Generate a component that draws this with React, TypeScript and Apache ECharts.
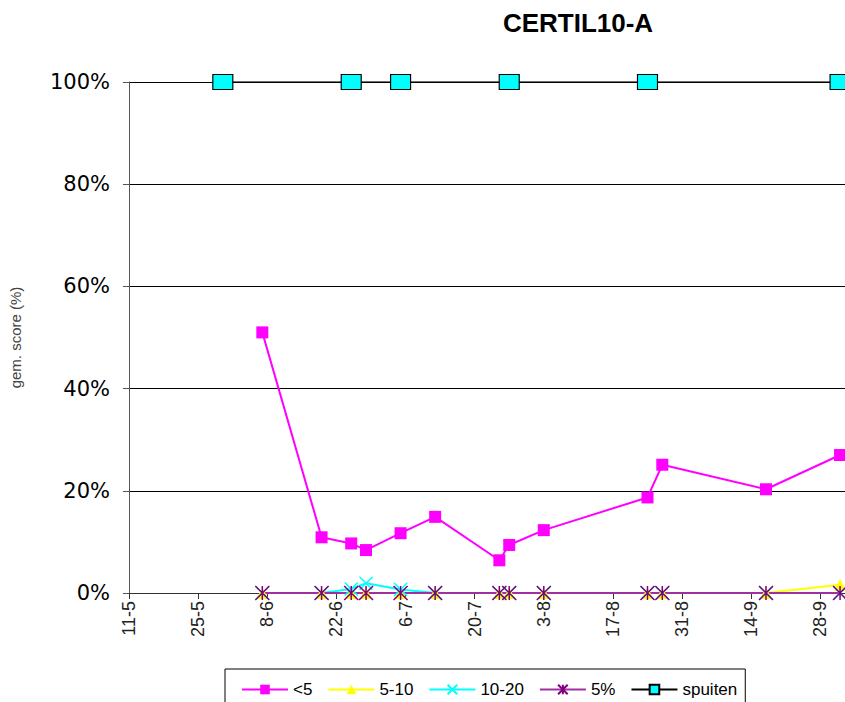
import React, { useEffect, useRef } from "react";
import * as echarts from "echarts";

// observation dates (day-month) and series values (%)
const obsDates = ["7-6", "19-6", "25-6", "28-6", "5-7", "12-7", "25-7", "27-7", "3-8", "24-8", "27-8", "17-9", "2-10"];
const lt5 = [51.0, 10.9, 9.7, 8.4, 11.7, 14.9, 6.4, 9.4, 12.3, 18.7, 25.1, 20.3, 27.0];
const s5to10 = [0, 0, 0, 0, 0, 0, 0, 0, 0, 0, 0, 0, 1.6];
const s10to20 = [0, 0, 0.8, 1.9, 0.7, 0, 0, 0, 0, 0, 0, 0, 0];
const s5pct = [0, 0, 0, 0, 0, 0, 0, 0, 0, 0, 0, 0, 0];
const sprayDates = ["30-5", "25-6", "5-7", "27-7", "24-8", "2-10"];
const sprayValues = [100, 100, 100, 100, 100, 100];
const seriesNames = ["<5", "5-10", "10-20", "5%", "spuiten"];
const yTicks = [0, 20, 40, 60, 80, 100];
const xStart = "11-5";
const xEndDays = 145;
const tickDays = 14;
const title = "CERTIL10-A";
const yName = "gem. score (%)";

const YEAR = 2009;
const toUTC = (s: string) => {
  const [d, m] = s.split("-").map(Number);
  return Date.UTC(YEAR, m - 1, d);
};
const BASE = toUTC(xStart);
const DAY = 86400000;
const toDay = (s: string) => Math.round((toUTC(s) - BASE) / DAY);
const fmtDay = (v: number) => {
  const t = new Date(BASE + v * DAY);
  return `${t.getUTCDate()}-${t.getUTCMonth() + 1}`;
};

export default function App() {
  const ref = useRef<HTMLDivElement>(null);
  useEffect(() => {
    if (!ref.current) return;
    const chart = echarts.init(ref.current, null, { renderer: "svg" });
    const pair = (dates: string[], vals: number[]) => dates.map((d, i) => [toDay(d), vals[i]]);
    const xPath = "path://M0 0 L10 10 M10 0 L0 10";
    const starPath = "path://M0 0 L10 10 M10 0 L0 10 M5 0 L5 10";
    chart.setOption({
      animation: false,
      backgroundColor: "#fff",
      title: {
        text: title,
        left: 573,
        top: 5,
        textAlign: "center",
        textStyle: { fontFamily: "Liberation Sans", fontSize: 26, fontWeight: "bold", color: "#000" },
      },
      grid: { left: 125, right: 0, top: 82, bottom: 109, containLabel: false },
      legend: {
        left: 225,
        top: 669,
        padding: [12, 8, 12, 16],
        borderColor: "#000",
        borderWidth: 1,
        itemWidth: 46,
        itemHeight: 12,
        itemGap: 15,
        data: seriesNames,
        textStyle: { fontFamily: "Liberation Sans", fontSize: 17, color: "#000" },
      },
      xAxis: {
        type: "value",
        min: 0,
        max: xEndDays,
        interval: tickDays,
        axisLine: { lineStyle: { color: "#333", width: 1 } },
        axisTick: { show: true, length: 6, lineStyle: { color: "#333" } },
        splitLine: { show: false },
        axisLabel: {
          rotate: 90,
          margin: 8,
          fontFamily: "Liberation Sans",
          fontSize: 18,
          color: "#222",
          showMaxLabel: false,
          formatter: (v: number) => (v % tickDays === 0 ? fmtDay(v) : ""),
        },
      },
      yAxis: {
        type: "value",
        min: yTicks[0],
        max: yTicks[yTicks.length - 1],
        interval: yTicks[1] - yTicks[0],
        name: yName,
        nameLocation: "middle",
        nameGap: 106,
        nameRotate: 90,
        nameTextStyle: { fontFamily: "Liberation Sans", fontSize: 15, color: "#444" },
        axisLine: { show: true, lineStyle: { color: "#555", width: 1 } },
        axisTick: { show: true, length: 6, lineStyle: { color: "#555" } },
        splitLine: { show: true, lineStyle: { color: "#000", width: 1 } },
        axisLabel: {
          margin: 19,
          fontFamily: "DejaVu Sans",
          fontSize: 21,
          color: "#000",
          formatter: "{value}%",
        },
      },
      series: [
        {
          name: seriesNames[0],
          type: "line",
          data: pair(obsDates, lt5),
          symbol: "rect",
          symbolSize: 12,
          itemStyle: { color: "#FF00FF" },
          lineStyle: { color: "#FF00FF", width: 2 },
        },
        {
          name: seriesNames[1],
          type: "line",
          data: pair(obsDates, s5to10),
          symbol: "triangle",
          symbolSize: 12,
          itemStyle: { color: "#FFFF00" },
          lineStyle: { color: "#FFFF00", width: 2 },
        },
        {
          name: seriesNames[2],
          type: "line",
          data: pair(obsDates, s10to20),
          symbol: xPath,
          symbolSize: 13,
          itemStyle: { color: "none", borderColor: "#00FFFF", borderWidth: 1.5 },
          lineStyle: { color: "#00FFFF", width: 2 },
        },
        {
          name: seriesNames[3],
          type: "line",
          data: pair(obsDates, s5pct),
          symbol: starPath,
          symbolSize: 14,
          itemStyle: { color: "none", borderColor: "#800080", borderWidth: 1.5 },
          lineStyle: { color: "#A030A0", width: 2 },
        },
        {
          name: seriesNames[4],
          type: "line",
          data: pair(sprayDates, sprayValues),
          symbol: "rect",
          symbolSize: [20, 15],
          itemStyle: { color: "#00FFFF", borderColor: "#000", borderWidth: 1 },
          lineStyle: { color: "#000", width: 1.5 },
        },
      ],
    });
    return () => chart.dispose();
  }, []);
  return (
    <div
      ref={ref}
      style={{ position: "fixed", left: 0, top: 0, width: 845, height: 702, background: "#fff" }}
    />
  );
}
